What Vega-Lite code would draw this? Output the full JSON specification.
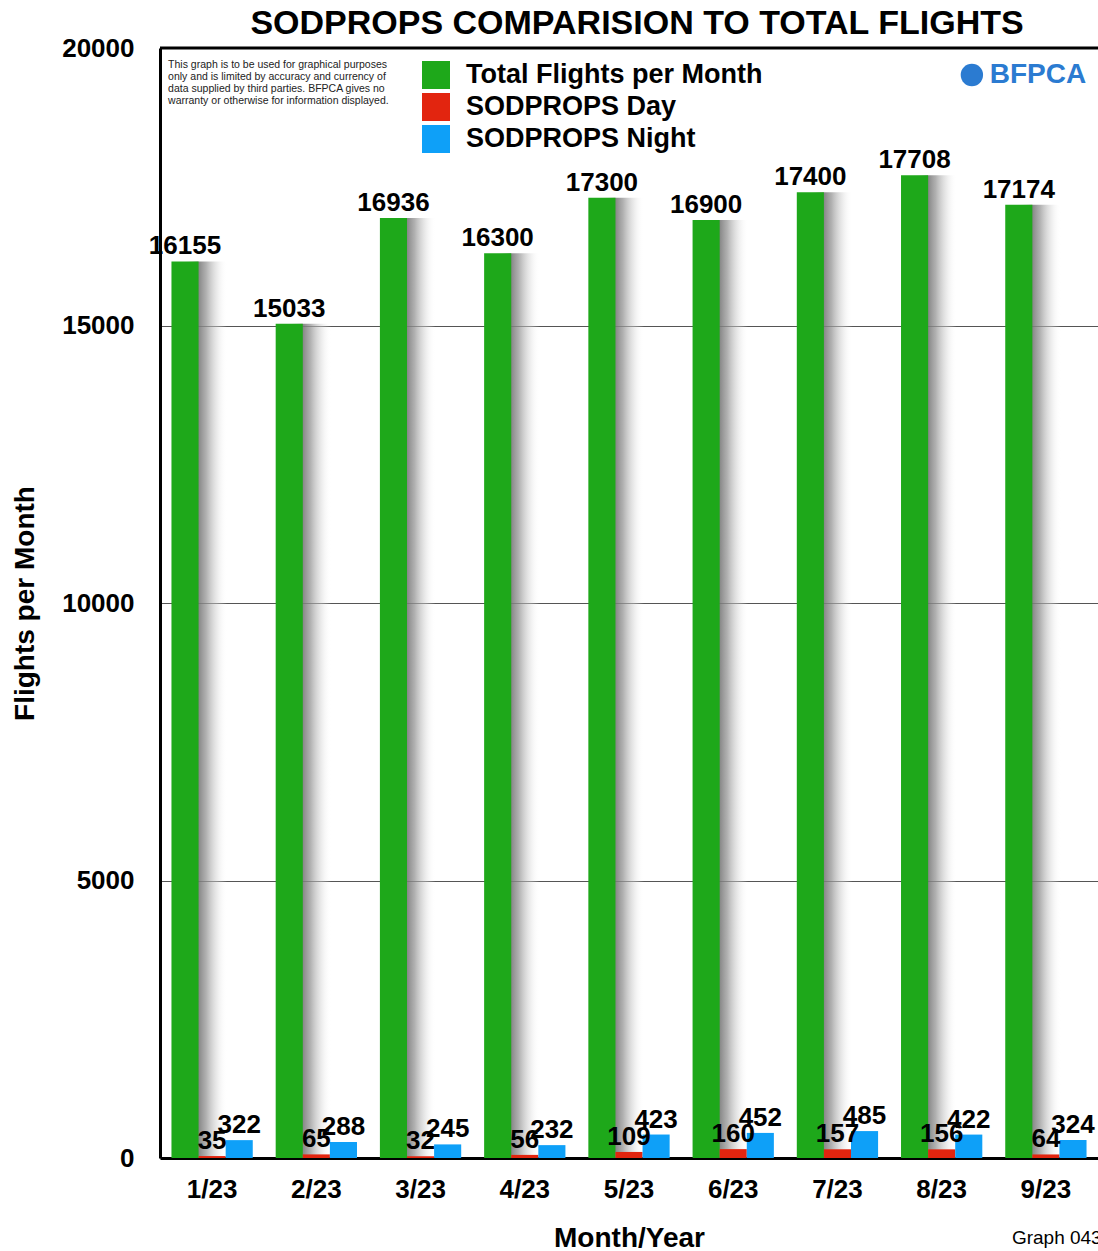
{
  "$schema": "https://vega.github.io/schema/vega-lite/v6.json",
  "autosize": {"type": "none"},
  "padding": {"left": 160, "top": 48, "right": 0, "bottom": 93},
  "width": 938,
  "height": 1110,
  "background": "white",
  "title": {"text": "SODPROPS COMPARISION TO TOTAL FLIGHTS", "fontSize": 34, "fontWeight": "bold", "font": "Liberation Sans", "anchor": "middle", "offset": -6, "dx": 8, "color": "black"},
  "config": {"font": "Liberation Sans", "view": {"stroke": null}},
  "datasets": {
    "flights": [
      {"month": "1/23", "series": "Total Flights per Month", "value": 16155},
      {"month": "1/23", "series": "SODPROPS Day", "value": 35},
      {"month": "1/23", "series": "SODPROPS Night", "value": 322},
      {"month": "2/23", "series": "Total Flights per Month", "value": 15033},
      {"month": "2/23", "series": "SODPROPS Day", "value": 65},
      {"month": "2/23", "series": "SODPROPS Night", "value": 288},
      {"month": "3/23", "series": "Total Flights per Month", "value": 16936},
      {"month": "3/23", "series": "SODPROPS Day", "value": 32},
      {"month": "3/23", "series": "SODPROPS Night", "value": 245},
      {"month": "4/23", "series": "Total Flights per Month", "value": 16300},
      {"month": "4/23", "series": "SODPROPS Day", "value": 56},
      {"month": "4/23", "series": "SODPROPS Night", "value": 232},
      {"month": "5/23", "series": "Total Flights per Month", "value": 17300},
      {"month": "5/23", "series": "SODPROPS Day", "value": 109},
      {"month": "5/23", "series": "SODPROPS Night", "value": 423},
      {"month": "6/23", "series": "Total Flights per Month", "value": 16900},
      {"month": "6/23", "series": "SODPROPS Day", "value": 160},
      {"month": "6/23", "series": "SODPROPS Night", "value": 452},
      {"month": "7/23", "series": "Total Flights per Month", "value": 17400},
      {"month": "7/23", "series": "SODPROPS Day", "value": 157},
      {"month": "7/23", "series": "SODPROPS Night", "value": 485},
      {"month": "8/23", "series": "Total Flights per Month", "value": 17708},
      {"month": "8/23", "series": "SODPROPS Day", "value": 156},
      {"month": "8/23", "series": "SODPROPS Night", "value": 422},
      {"month": "9/23", "series": "Total Flights per Month", "value": 17174},
      {"month": "9/23", "series": "SODPROPS Day", "value": 64},
      {"month": "9/23", "series": "SODPROPS Night", "value": 324}
    ],
    "note": [{"month": "1/23", "t": "This graph is to be used for graphical purposes\nonly and is limited by accuracy and currency of\ndata supplied by third parties. BFPCA gives no\nwarranty or otherwise for information displayed."}],
    "logo": [{"month": "9/23", "t": "BFPCA"}],
    "graph": [{"month": "9/23", "t": "Graph 043"}],
    "top": [{"v": 20000}]
  },
  "layer": [
    {
      "data": {"name": "flights"},
      "transform": [{"filter": "datum.series === 'Total Flights per Month'"}],
      "mark": {"type": "bar", "width": 60, "color": {"gradient": "linear", "x1": 0, "x2": 1, "y1": 0, "y2": 0, "stops": [{"offset": 0, "color": "rgba(255,255,255,0)"}, {"offset": 0.27, "color": "rgba(120,120,120,0.9)"}, {"offset": 0.4, "color": "rgba(150,150,150,0.75)"}, {"offset": 0.58, "color": "rgba(210,210,210,0.45)"}, {"offset": 0.75, "color": "rgba(255,255,255,0)"}, {"offset": 1, "color": "rgba(255,255,255,0)"}]}},
      "encoding": {
        "x": {
          "field": "month", "type": "nominal",
          "sort": ["1/23", "2/23", "3/23", "4/23", "5/23", "6/23", "7/23", "8/23", "9/23"],
          "scale": {"paddingInner": 0.22, "paddingOuter": 0.11},
          "axis": {"title": "Month/Year", "titleFontSize": 28, "titleFontWeight": "bold", "titleColor": "black", "titlePadding": 22, "labelFontSize": 26, "labelFontWeight": "bold", "labelColor": "black", "labelAngle": 0, "labelAlign": "center", "labelBaseline": "top", "labelPadding": 18, "ticks": false, "tickSize": 0, "domainColor": "black", "domainWidth": 3}
        },
        "y": {
          "field": "value", "type": "quantitative",
          "scale": {"domain": [0, 20000], "nice": false, "zero": true},
          "axis": {"title": "Flights per Month", "format": "d", "titleFontSize": 28, "titleFontWeight": "bold", "titleColor": "black", "titlePadding": 22, "labelFontSize": 26, "labelFontWeight": "bold", "labelColor": "black", "labelPadding": 26, "ticks": false, "tickSize": 0, "values": [0, 5000, 10000, 15000, 20000], "grid": true, "gridColor": "#555555", "gridWidth": 1, "domainColor": "black", "domainWidth": 3}
        }
      }
    },
    {
      "data": {"name": "flights"},
      "mark": {"type": "bar"},
      "encoding": {
        "x": {"field": "month", "type": "nominal", "sort": ["1/23", "2/23", "3/23", "4/23", "5/23", "6/23", "7/23", "8/23", "9/23"]},
        "y": {"field": "value", "type": "quantitative", "scale": {"domain": [0, 20000], "nice": false, "zero": true}},
        "xOffset": {"field": "series", "type": "nominal", "sort": ["Total Flights per Month", "SODPROPS Day", "SODPROPS Night"], "scale": {"domain": ["Total Flights per Month", "SODPROPS Day", "SODPROPS Night"], "paddingInner": 0, "paddingOuter": 0}},
        "color": {
          "field": "series", "type": "nominal",
          "scale": {"domain": ["Total Flights per Month", "SODPROPS Day", "SODPROPS Night"], "range": ["#1ea81a", "#e2250f", "#0ea0f8"]},
          "legend": {"orient": "none", "legendX": 262, "legendY": 13, "title": null, "symbolType": "square", "symbolSize": 784, "symbolStrokeWidth": 0, "symbolOpacity": 1, "labelFontSize": 27, "labelFontWeight": "bold", "labelColor": "black", "labelOffset": 16, "rowPadding": 4, "padding": 0, "labelLimit": 400}
        }
      }
    },
    {
      "data": {"name": "flights"},
      "mark": {"type": "text", "fontSize": 26, "fontWeight": "bold", "color": "black", "baseline": "alphabetic", "dy": -7},
      "encoding": {
        "x": {"field": "month", "type": "nominal", "sort": ["1/23", "2/23", "3/23", "4/23", "5/23", "6/23", "7/23", "8/23", "9/23"]},
        "y": {"field": "value", "type": "quantitative", "scale": {"domain": [0, 20000], "nice": false, "zero": true}},
        "xOffset": {"field": "series", "type": "nominal", "sort": ["Total Flights per Month", "SODPROPS Day", "SODPROPS Night"], "scale": {"domain": ["Total Flights per Month", "SODPROPS Day", "SODPROPS Night"], "paddingInner": 0, "paddingOuter": 0}},
        "text": {"field": "value", "type": "quantitative", "format": "d"}
      }
    },
    {
      "data": {"name": "top"},
      "mark": {"type": "rule", "color": "black", "strokeWidth": 3},
      "encoding": {"y": {"field": "v", "type": "quantitative", "scale": {"domain": [0, 20000], "nice": false, "zero": true}}}
    },
    {
      "data": {"name": "note"},
      "mark": {"type": "text", "fontSize": 10.5, "color": "#222222", "align": "left", "baseline": "top", "lineBreak": "\n", "lineHeight": 12, "dx": -44, "font": "Liberation Sans"},
      "encoding": {
        "x": {"field": "month", "type": "nominal", "sort": ["1/23", "2/23", "3/23", "4/23", "5/23", "6/23", "7/23", "8/23", "9/23"]},
        "y": {"datum": 19784, "type": "quantitative", "scale": {"domain": [0, 20000], "nice": false, "zero": true}},
        "text": {"field": "t", "type": "nominal"}
      }
    },
    {
      "data": {"name": "logo"},
      "mark": {"type": "point", "shape": "circle", "filled": true, "size": 500, "opacity": 1, "color": "#2b7bd1", "xOffset": -74},
      "encoding": {
        "x": {"field": "month", "type": "nominal", "sort": ["1/23", "2/23", "3/23", "4/23", "5/23", "6/23", "7/23", "8/23", "9/23"]},
        "y": {"datum": 19514, "type": "quantitative", "scale": {"domain": [0, 20000], "nice": false, "zero": true}}
      }
    },
    {
      "data": {"name": "logo"},
      "mark": {"type": "text", "fontSize": 28, "fontWeight": "bold", "color": "#2b7bd1", "align": "center", "baseline": "middle", "dx": -8},
      "encoding": {
        "x": {"field": "month", "type": "nominal", "sort": ["1/23", "2/23", "3/23", "4/23", "5/23", "6/23", "7/23", "8/23", "9/23"]},
        "y": {"datum": 19514, "type": "quantitative", "scale": {"domain": [0, 20000], "nice": false, "zero": true}},
        "text": {"field": "t", "type": "nominal"}
      }
    },
    {
      "data": {"name": "graph"},
      "mark": {"type": "text", "fontSize": 19, "color": "black", "align": "left", "baseline": "middle", "dx": -34},
      "encoding": {
        "x": {"field": "month", "type": "nominal", "sort": ["1/23", "2/23", "3/23", "4/23", "5/23", "6/23", "7/23", "8/23", "9/23"]},
        "y": {"datum": -1441, "type": "quantitative", "scale": {"domain": [0, 20000], "nice": false, "zero": true}},
        "text": {"field": "t", "type": "nominal"}
      }
    }
  ]
}
